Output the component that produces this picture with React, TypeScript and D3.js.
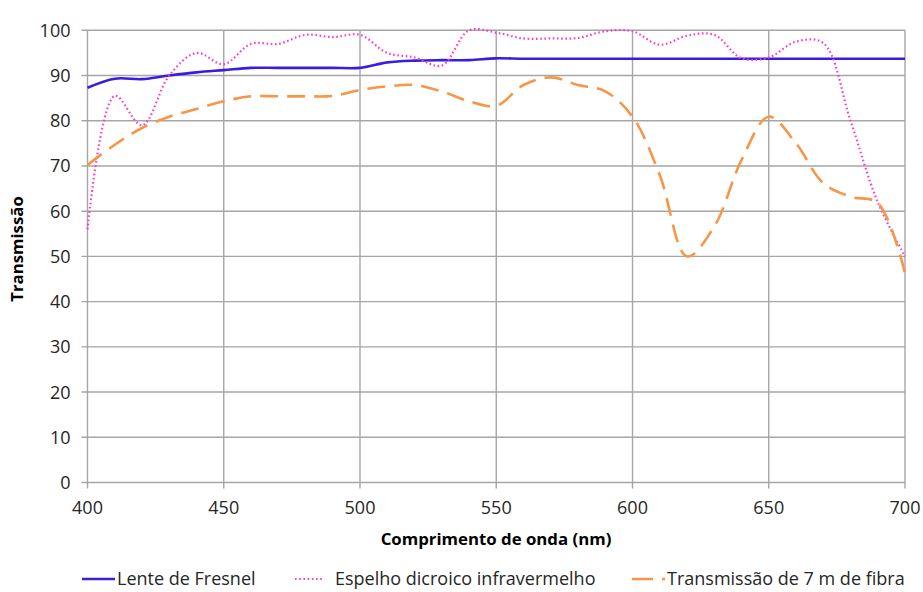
import React from "react";
import * as d3 from "d3";

const wavelengths = [400, 410, 420, 430, 440, 450, 460, 470, 480, 490, 500, 510, 520, 530, 540, 550, 560, 570, 580, 590, 600, 610, 620, 630, 640, 650, 660, 670, 680, 690, 700];
const fresnel = [87.3, 89.3, 89.2, 90.0, 90.7, 91.2, 91.7, 91.7, 91.7, 91.7, 91.7, 92.9, 93.3, 93.4, 93.4, 93.8, 93.7, 93.7, 93.7, 93.7, 93.7, 93.7, 93.7, 93.7, 93.7, 93.7, 93.7, 93.7, 93.7, 93.7, 93.7];
const dichroic = [56.0, 85.5, 79.0, 90.0, 95.0, 92.5, 97.0, 97.0, 99.0, 98.5, 99.0, 95.0, 94.0, 92.2, 100.0, 99.5, 98.2, 98.2, 98.3, 99.8, 99.8, 96.8, 98.8, 99.0, 93.8, 94.0, 97.5, 97.2, 80.0, 62.0, 50.0];
const fiber = [70.2, 74.7, 78.4, 80.9, 82.6, 84.3, 85.4, 85.4, 85.4, 85.5, 86.8, 87.6, 87.9, 86.5, 84.3, 83.3, 87.9, 89.6, 87.9, 86.5, 80.9, 68.0, 50.0, 56.6, 71.3, 80.9, 75.0, 66.2, 63.2, 61.8, 46.3];
const xTicks = [400, 450, 500, 550, 600, 650, 700];
const yTicks = [0, 10, 20, 30, 40, 50, 60, 70, 80, 90, 100];
const seriesNames = ["Lente de Fresnel", "Espelho dicroico infravermelho", "Transmissão de 7 m de fibra"];
const xTitle = "Comprimento de onda (nm)";
const yTitle = "Transmissão";

const W = 923, H = 592;
const left = 87.5, right = 905, top = 30.3, bottom = 482.5;
const FONT = "'Open Sans', sans-serif";

export default function App() {
  const x = d3.scaleLinear().domain([400, 700]).range([left, right]);
  const y = d3.scaleLinear().domain([0, 100]).range([bottom, top]);
  const mk = (vals: number[]) =>
    d3.line<number>()
      .x((_, i) => x(wavelengths[i]))
      .y((v) => y(v))
      .curve(d3.curveCatmullRom.alpha(0.5))(vals) || "";

  const series = [
    { name: seriesNames[0], vals: fresnel, color: "#3a1ee0", dash: "none", w: 2.6 },
    { name: seriesNames[1], vals: dichroic, color: "#ff3cc8", dash: "1.6,2.6", w: 2.2 },
    { name: seriesNames[2], vals: fiber, color: "#f79646", dash: "18,9", w: 2.6 },
  ];

  const legendItems = [
    { x1: 82, x2: 115, tx: 117, dash: "none" },
    { x1: 295, x2: 324, tx: 335, dash: "1.6,2.6" },
    { x1: 632, x2: 665, tx: 667, dash: "21,9,4,100" },
  ];
  const legendY = 579;

  return (
    <svg width={W} height={H} style={{ position: "absolute", left: 0, top: 0, background: "#fff" }} fontFamily={FONT}>
      <rect width={W} height={H} fill="#fff" />
      {yTicks.map((t) => (
        <line key={"gy" + t} x1={left - 6} x2={right} y1={y(t)} y2={y(t)} stroke="#a6a6a6" strokeWidth={1.4} />
      ))}
      {xTicks.map((t) => (
        <line key={"gx" + t} x1={x(t)} x2={x(t)} y1={top} y2={bottom + 6} stroke="#a6a6a6" strokeWidth={1.4} />
      ))}
      {yTicks.map((t) => (
        <text key={"ly" + t} x={left - 17} y={y(t)} dy="0.36em" textAnchor="end" fontSize={18} fill="#262626">
          {t}
        </text>
      ))}
      {xTicks.map((t) => (
        <text key={"lx" + t} x={x(t)} y={bottom + 31} textAnchor="middle" fontSize={18} fill="#262626">
          {t}
        </text>
      ))}
      <text x={496} y={545} textAnchor="middle" fontSize={16.8} fontWeight="bold" fill="#000">
        {xTitle}
      </text>
      <text transform={`translate(23,249) rotate(-90)`} textAnchor="middle" fontSize={16.8} fontWeight="bold" fill="#000">
        {yTitle}
      </text>
      {series.map((s) => (
        <path key={s.name} d={mk(s.vals)} fill="none" stroke={s.color} strokeWidth={s.w} strokeDasharray={s.dash} strokeLinecap="butt" />
      ))}
      {series.map((s, i) => (
        <g key={"lg" + i}>
          <line x1={legendItems[i].x1} x2={legendItems[i].x2} y1={legendY} y2={legendY} stroke={s.color} strokeWidth={s.w} strokeDasharray={legendItems[i].dash} />
          <text x={legendItems[i].tx} y={legendY} dy="0.36em" fontSize={18} fill="#262626">
            {s.name}
          </text>
        </g>
      ))}
    </svg>
  );
}
